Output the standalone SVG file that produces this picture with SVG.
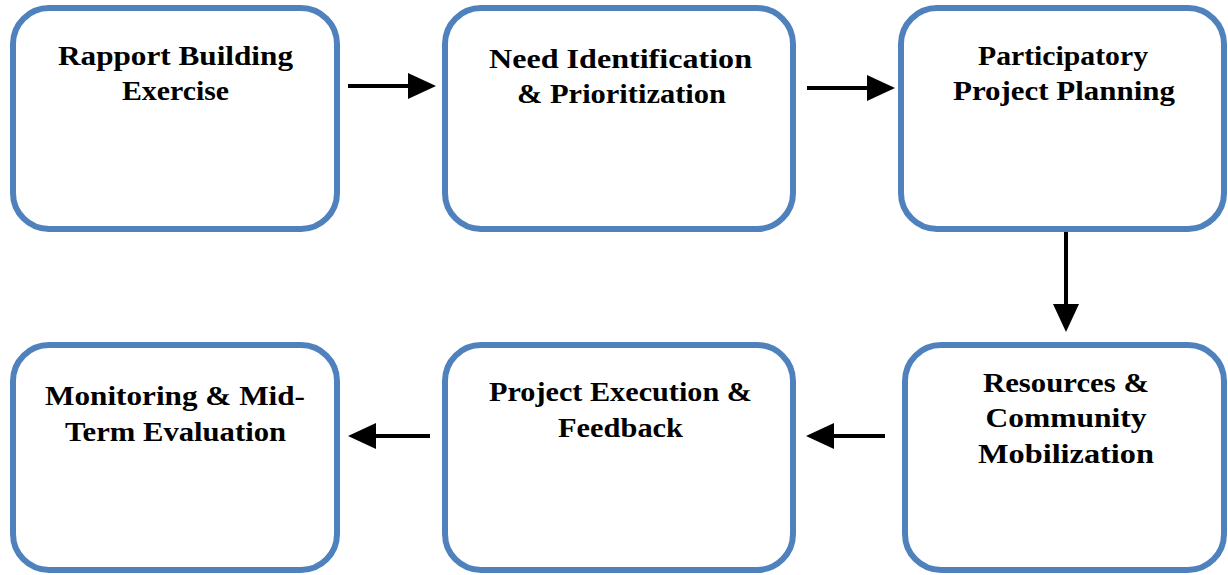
<svg xmlns="http://www.w3.org/2000/svg" width="1228" height="575" viewBox="0 0 1228 575">
<style>
.box{fill:#ffffff;stroke:#4f81bd;stroke-width:6}
.lbl{font-family:"Liberation Serif","Times New Roman",serif;font-weight:bold;font-size:27px;fill:#000;text-anchor:middle}
.conn{stroke:#000;stroke-width:4;fill:none;marker-end:url(#ah)}
</style>
<defs>
<marker id="ah" markerUnits="userSpaceOnUse" markerWidth="28" markerHeight="28" viewBox="0 0 28 28" refX="1" refY="14" orient="auto">
<path d="M0,1 L28,14 L0,27 Z" fill="#000"/>
</marker>
</defs>
<rect width="1228" height="575" fill="#ffffff"/>
<g id="n1">
<rect class="box" x="13" y="8" width="324" height="221" rx="36" ry="36"/>
<text class="lbl" x="175.5" y="65" textLength="235" lengthAdjust="spacingAndGlyphs">Rapport Building</text>
<text class="lbl" x="175.5" y="100" textLength="107" lengthAdjust="spacingAndGlyphs">Exercise</text>
</g>
<g id="n2">
<rect class="box" x="445" y="8" width="348" height="221" rx="36" ry="36"/>
<text class="lbl" x="620.5" y="68" textLength="263" lengthAdjust="spacingAndGlyphs">Need Identification</text>
<text class="lbl" x="621.5" y="103" textLength="209" lengthAdjust="spacingAndGlyphs">&amp; Prioritization</text>
</g>
<g id="n3">
<rect class="box" x="901" y="8" width="323" height="221" rx="36" ry="36"/>
<text class="lbl" x="1063" y="65" textLength="170" lengthAdjust="spacingAndGlyphs">Participatory</text>
<text class="lbl" x="1064" y="100" textLength="222" lengthAdjust="spacingAndGlyphs">Project Planning</text>
</g>
<g id="n4">
<rect class="box" x="13" y="345" width="324" height="225" rx="36" ry="36"/>
<text class="lbl" x="175" y="405" textLength="260" lengthAdjust="spacingAndGlyphs">Monitoring &amp; Mid-</text>
<text class="lbl" x="175.5" y="441" textLength="221" lengthAdjust="spacingAndGlyphs">Term Evaluation</text>
</g>
<g id="n5">
<rect class="box" x="445" y="345" width="348" height="225" rx="36" ry="36"/>
<text class="lbl" x="620.5" y="401" textLength="263" lengthAdjust="spacingAndGlyphs">Project Execution &amp;</text>
<text class="lbl" x="620.5" y="437" textLength="125" lengthAdjust="spacingAndGlyphs">Feedback</text>
</g>
<g id="n6">
<rect class="box" x="905" y="345" width="319" height="225" rx="36" ry="36"/>
<text class="lbl" x="1066" y="392" textLength="166" lengthAdjust="spacingAndGlyphs">Resources &amp;</text>
<text class="lbl" x="1066" y="427" textLength="161" lengthAdjust="spacingAndGlyphs">Community</text>
<text class="lbl" x="1066" y="463" textLength="176" lengthAdjust="spacingAndGlyphs">Mobilization</text>
</g>
<g id="connectors">
<line class="conn" x1="348" y1="86" x2="409" y2="86"/>
<line class="conn" x1="807" y1="88" x2="868" y2="88"/>
<line class="conn" x1="1066" y1="232" x2="1066" y2="305"/>
<line class="conn" x1="885" y1="436" x2="833" y2="436"/>
<line class="conn" x1="430" y1="436" x2="375" y2="436"/>
</g>
</svg>
